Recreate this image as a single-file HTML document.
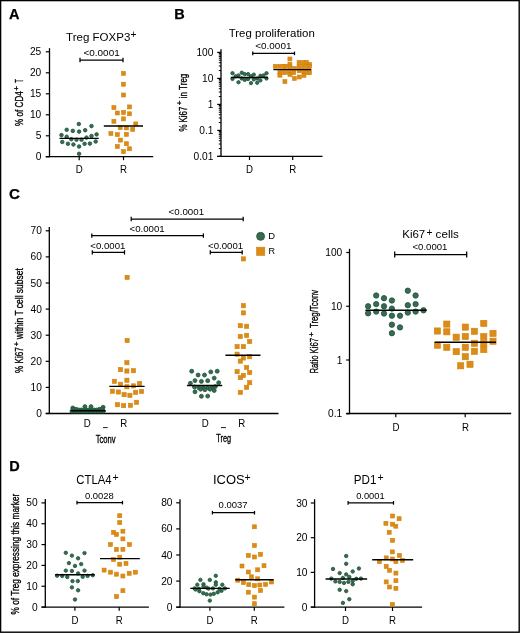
<!DOCTYPE html>
<html><head><meta charset="utf-8"><style>
html,body{margin:0;padding:0;background:#fff;}
svg{display:block;font-family:"Liberation Sans", sans-serif;will-change:transform;}
</style></head><body>
<svg width="520" height="633" viewBox="0 0 520 633">
<rect x="0" y="0" width="520" height="633" fill="#fff"/>
<text x="9" y="19.3" font-size="14.5" stroke="#000" stroke-width="0.25" font-weight="bold">A</text>
<text x="66.07" y="40.8" font-size="11.4" textLength="64.3" lengthAdjust="spacingAndGlyphs">Treg FOXP3</text>
<text x="130.53" y="37.9" font-size="10.2">+</text>
<line x1="49.5" y1="48.2" x2="49.5" y2="157.2" stroke="#000" stroke-width="1.3"/>
<line x1="45.8" y1="156.6" x2="153.2" y2="156.6" stroke="#000" stroke-width="1.3"/>
<line x1="45.8" y1="51.8" x2="49.5" y2="51.8" stroke="#000" stroke-width="1.2"/>
<text x="41.3" y="55.3" font-size="10.2" text-anchor="end" textLength="11.35" lengthAdjust="spacingAndGlyphs">25</text>
<line x1="45.8" y1="72.8" x2="49.5" y2="72.8" stroke="#000" stroke-width="1.2"/>
<text x="41.3" y="76.3" font-size="10.2" text-anchor="end" textLength="11.35" lengthAdjust="spacingAndGlyphs">20</text>
<line x1="45.8" y1="93.8" x2="49.5" y2="93.8" stroke="#000" stroke-width="1.2"/>
<text x="41.3" y="97.3" font-size="10.2" text-anchor="end" textLength="11.35" lengthAdjust="spacingAndGlyphs">15</text>
<line x1="45.8" y1="114.8" x2="49.5" y2="114.8" stroke="#000" stroke-width="1.2"/>
<text x="41.3" y="118.3" font-size="10.2" text-anchor="end" textLength="11.35" lengthAdjust="spacingAndGlyphs">10</text>
<line x1="45.8" y1="135.8" x2="49.5" y2="135.8" stroke="#000" stroke-width="1.2"/>
<text x="41.3" y="139.3" font-size="10.2" text-anchor="end" textLength="5.67" lengthAdjust="spacingAndGlyphs">5</text>
<line x1="45.8" y1="156.8" x2="49.5" y2="156.8" stroke="#000" stroke-width="1.2"/>
<text x="41.3" y="160.3" font-size="10.2" text-anchor="end" textLength="5.67" lengthAdjust="spacingAndGlyphs">0</text>
<line x1="79.2" y1="156.6" x2="79.2" y2="160.2" stroke="#000" stroke-width="1.2"/>
<line x1="123.5" y1="156.6" x2="123.5" y2="160.2" stroke="#000" stroke-width="1.2"/>
<text x="79.2" y="172.6" font-size="10.2" text-anchor="middle" textLength="7.0" lengthAdjust="spacingAndGlyphs">D</text>
<text x="123.5" y="172.6" font-size="10.2" text-anchor="middle" textLength="7.0" lengthAdjust="spacingAndGlyphs">R</text>
<text x="22.8" y="125.88" font-size="11.8" stroke="#000" stroke-width="0.35" textLength="34.72" lengthAdjust="spacingAndGlyphs" transform="rotate(-90 22.8 125.88)">% of CD4</text>
<text x="19.06" y="90.63" font-size="8" stroke="#000" stroke-width="0.35" transform="rotate(-90 19.06 90.63)">+</text>
<text x="22.8" y="82.82" font-size="11.8" stroke="#000" stroke-width="0.35" textLength="3.64" lengthAdjust="spacingAndGlyphs" transform="rotate(-90 22.8 82.82)">T</text>
<line x1="80" y1="60.0" x2="123" y2="60.0" stroke="#000" stroke-width="1.25"/>
<line x1="80" y1="57.8" x2="80" y2="62.2" stroke="#000" stroke-width="1.25"/>
<line x1="123" y1="57.8" x2="123" y2="62.2" stroke="#000" stroke-width="1.25"/>
<text x="83.55" y="55.6" font-size="9.5" textLength="36.12" lengthAdjust="spacingAndGlyphs">&lt;0.0001</text>
<circle cx="78.8" cy="124.0" r="1.78" fill="#3a6a54" stroke="#1d5739" stroke-width="0.85"/>
<circle cx="91.5" cy="126.1" r="1.78" fill="#3a6a54" stroke="#1d5739" stroke-width="0.85"/>
<circle cx="66.7" cy="129.8" r="1.78" fill="#3a6a54" stroke="#1d5739" stroke-width="0.85"/>
<circle cx="72.8" cy="130.9" r="1.78" fill="#3a6a54" stroke="#1d5739" stroke-width="0.85"/>
<circle cx="79.1" cy="131.6" r="1.78" fill="#3a6a54" stroke="#1d5739" stroke-width="0.85"/>
<circle cx="85.2" cy="130.2" r="1.78" fill="#3a6a54" stroke="#1d5739" stroke-width="0.85"/>
<circle cx="61.5" cy="135.1" r="1.78" fill="#3a6a54" stroke="#1d5739" stroke-width="0.85"/>
<circle cx="66.7" cy="136.7" r="1.78" fill="#3a6a54" stroke="#1d5739" stroke-width="0.85"/>
<circle cx="71.3" cy="139.2" r="1.78" fill="#3a6a54" stroke="#1d5739" stroke-width="0.85"/>
<circle cx="76.5" cy="139.7" r="1.78" fill="#3a6a54" stroke="#1d5739" stroke-width="0.85"/>
<circle cx="81.5" cy="139.7" r="1.78" fill="#3a6a54" stroke="#1d5739" stroke-width="0.85"/>
<circle cx="86.5" cy="137.6" r="1.78" fill="#3a6a54" stroke="#1d5739" stroke-width="0.85"/>
<circle cx="91.5" cy="136.0" r="1.78" fill="#3a6a54" stroke="#1d5739" stroke-width="0.85"/>
<circle cx="96.6" cy="134.4" r="1.78" fill="#3a6a54" stroke="#1d5739" stroke-width="0.85"/>
<circle cx="62.3" cy="142.0" r="1.78" fill="#3a6a54" stroke="#1d5739" stroke-width="0.85"/>
<circle cx="67.9" cy="143.8" r="1.78" fill="#3a6a54" stroke="#1d5739" stroke-width="0.85"/>
<circle cx="73.4" cy="144.5" r="1.78" fill="#3a6a54" stroke="#1d5739" stroke-width="0.85"/>
<circle cx="79.1" cy="146.5" r="1.78" fill="#3a6a54" stroke="#1d5739" stroke-width="0.85"/>
<circle cx="84.6" cy="143.8" r="1.78" fill="#3a6a54" stroke="#1d5739" stroke-width="0.85"/>
<circle cx="89.9" cy="143.6" r="1.78" fill="#3a6a54" stroke="#1d5739" stroke-width="0.85"/>
<circle cx="95.7" cy="141.5" r="1.78" fill="#3a6a54" stroke="#1d5739" stroke-width="0.85"/>
<circle cx="79.1" cy="153.8" r="1.78" fill="#3a6a54" stroke="#1d5739" stroke-width="0.85"/>
<rect x="121.50" y="71.40" width="4.00" height="4.00" fill="#d98b1c" stroke="#d58200" stroke-width="0.6"/>
<rect x="121.50" y="82.20" width="4.00" height="4.00" fill="#d98b1c" stroke="#d58200" stroke-width="0.6"/>
<rect x="121.50" y="93.00" width="4.00" height="4.00" fill="#d98b1c" stroke="#d58200" stroke-width="0.6"/>
<rect x="111.90" y="105.60" width="4.00" height="4.00" fill="#d98b1c" stroke="#d58200" stroke-width="0.6"/>
<rect x="127.50" y="104.90" width="4.00" height="4.00" fill="#d98b1c" stroke="#d58200" stroke-width="0.6"/>
<rect x="115.30" y="111.00" width="4.00" height="4.00" fill="#d98b1c" stroke="#d58200" stroke-width="0.6"/>
<rect x="121.50" y="110.40" width="4.00" height="4.00" fill="#d98b1c" stroke="#d58200" stroke-width="0.6"/>
<rect x="127.50" y="111.80" width="4.00" height="4.00" fill="#d98b1c" stroke="#d58200" stroke-width="0.6"/>
<rect x="121.50" y="116.90" width="4.00" height="4.00" fill="#d98b1c" stroke="#d58200" stroke-width="0.6"/>
<rect x="111.90" y="119.30" width="4.00" height="4.00" fill="#d98b1c" stroke="#d58200" stroke-width="0.6"/>
<rect x="133.80" y="121.90" width="4.00" height="4.00" fill="#d98b1c" stroke="#d58200" stroke-width="0.6"/>
<rect x="118.20" y="125.60" width="4.00" height="4.00" fill="#d98b1c" stroke="#d58200" stroke-width="0.6"/>
<rect x="124.40" y="125.90" width="4.00" height="4.00" fill="#d98b1c" stroke="#d58200" stroke-width="0.6"/>
<rect x="130.70" y="127.30" width="4.00" height="4.00" fill="#d98b1c" stroke="#d58200" stroke-width="0.6"/>
<rect x="108.90" y="131.50" width="4.00" height="4.00" fill="#d98b1c" stroke="#d58200" stroke-width="0.6"/>
<rect x="115.30" y="132.60" width="4.00" height="4.00" fill="#d98b1c" stroke="#d58200" stroke-width="0.6"/>
<rect x="124.40" y="132.30" width="4.00" height="4.00" fill="#d98b1c" stroke="#d58200" stroke-width="0.6"/>
<rect x="118.40" y="138.10" width="4.00" height="4.00" fill="#d98b1c" stroke="#d58200" stroke-width="0.6"/>
<rect x="124.40" y="141.70" width="4.00" height="4.00" fill="#d98b1c" stroke="#d58200" stroke-width="0.6"/>
<rect x="115.30" y="144.50" width="4.00" height="4.00" fill="#d98b1c" stroke="#d58200" stroke-width="0.6"/>
<rect x="127.50" y="146.75" width="4.00" height="4.00" fill="#d98b1c" stroke="#d58200" stroke-width="0.6"/>
<rect x="121.50" y="149.60" width="4.00" height="4.00" fill="#d98b1c" stroke="#d58200" stroke-width="0.6"/>
<line x1="59.5" y1="138.4" x2="98.7" y2="138.4" stroke="#000" stroke-width="1.4"/>
<line x1="103.8" y1="126.0" x2="143" y2="126.0" stroke="#000" stroke-width="1.4"/>
<text x="174.3" y="19.3" font-size="14.5" stroke="#000" stroke-width="0.25" font-weight="bold">B</text>
<text x="228.72" y="37.3" font-size="11.7" textLength="86.15" lengthAdjust="spacingAndGlyphs">Treg proliferation</text>
<line x1="221" y1="49.3" x2="221" y2="157.0" stroke="#000" stroke-width="1.3"/>
<line x1="217.2" y1="156.4" x2="322.5" y2="156.4" stroke="#000" stroke-width="1.3"/>
<line x1="217.2" y1="52.400000000000006" x2="221" y2="52.400000000000006" stroke="#000" stroke-width="1.2"/>
<text x="213.4" y="55.900000000000006" font-size="10.2" text-anchor="end" textLength="17.02" lengthAdjust="spacingAndGlyphs">100</text>
<line x1="217.2" y1="78.4" x2="221" y2="78.4" stroke="#000" stroke-width="1.2"/>
<text x="213.4" y="81.9" font-size="10.2" text-anchor="end" textLength="11.35" lengthAdjust="spacingAndGlyphs">10</text>
<line x1="217.2" y1="104.4" x2="221" y2="104.4" stroke="#000" stroke-width="1.2"/>
<text x="213.4" y="107.9" font-size="10.2" text-anchor="end" textLength="5.67" lengthAdjust="spacingAndGlyphs">1</text>
<line x1="217.2" y1="130.4" x2="221" y2="130.4" stroke="#000" stroke-width="1.2"/>
<text x="213.4" y="133.9" font-size="10.2" text-anchor="end" textLength="14.18" lengthAdjust="spacingAndGlyphs">0.1</text>
<line x1="217.2" y1="156.4" x2="221" y2="156.4" stroke="#000" stroke-width="1.2"/>
<text x="213.4" y="159.9" font-size="10.2" text-anchor="end" textLength="19.85" lengthAdjust="spacingAndGlyphs">0.01</text>
<line x1="218.8" y1="148.5732201127365" x2="221" y2="148.5732201127365" stroke="#000" stroke-width="1.0"/>
<line x1="218.8" y1="143.99484737728878" x2="221" y2="143.99484737728878" stroke="#000" stroke-width="1.0"/>
<line x1="218.8" y1="140.74644022547298" x2="221" y2="140.74644022547298" stroke="#000" stroke-width="1.0"/>
<line x1="218.8" y1="138.22677988726352" x2="221" y2="138.22677988726352" stroke="#000" stroke-width="1.0"/>
<line x1="218.8" y1="136.16806749002527" x2="221" y2="136.16806749002527" stroke="#000" stroke-width="1.0"/>
<line x1="218.8" y1="134.4274509596293" x2="221" y2="134.4274509596293" stroke="#000" stroke-width="1.0"/>
<line x1="218.8" y1="132.91966033820947" x2="221" y2="132.91966033820947" stroke="#000" stroke-width="1.0"/>
<line x1="218.8" y1="131.58969475457755" x2="221" y2="131.58969475457755" stroke="#000" stroke-width="1.0"/>
<line x1="218.8" y1="122.5732201127365" x2="221" y2="122.5732201127365" stroke="#000" stroke-width="1.0"/>
<line x1="218.8" y1="117.99484737728878" x2="221" y2="117.99484737728878" stroke="#000" stroke-width="1.0"/>
<line x1="218.8" y1="114.74644022547298" x2="221" y2="114.74644022547298" stroke="#000" stroke-width="1.0"/>
<line x1="218.8" y1="112.22677988726352" x2="221" y2="112.22677988726352" stroke="#000" stroke-width="1.0"/>
<line x1="218.8" y1="110.16806749002527" x2="221" y2="110.16806749002527" stroke="#000" stroke-width="1.0"/>
<line x1="218.8" y1="108.42745095962933" x2="221" y2="108.42745095962933" stroke="#000" stroke-width="1.0"/>
<line x1="218.8" y1="106.91966033820947" x2="221" y2="106.91966033820947" stroke="#000" stroke-width="1.0"/>
<line x1="218.8" y1="105.58969475457755" x2="221" y2="105.58969475457755" stroke="#000" stroke-width="1.0"/>
<line x1="218.8" y1="96.5732201127365" x2="221" y2="96.5732201127365" stroke="#000" stroke-width="1.0"/>
<line x1="218.8" y1="91.99484737728878" x2="221" y2="91.99484737728878" stroke="#000" stroke-width="1.0"/>
<line x1="218.8" y1="88.74644022547298" x2="221" y2="88.74644022547298" stroke="#000" stroke-width="1.0"/>
<line x1="218.8" y1="86.22677988726352" x2="221" y2="86.22677988726352" stroke="#000" stroke-width="1.0"/>
<line x1="218.8" y1="84.16806749002527" x2="221" y2="84.16806749002527" stroke="#000" stroke-width="1.0"/>
<line x1="218.8" y1="82.42745095962933" x2="221" y2="82.42745095962933" stroke="#000" stroke-width="1.0"/>
<line x1="218.8" y1="80.91966033820947" x2="221" y2="80.91966033820947" stroke="#000" stroke-width="1.0"/>
<line x1="218.8" y1="79.58969475457756" x2="221" y2="79.58969475457756" stroke="#000" stroke-width="1.0"/>
<line x1="218.8" y1="70.5732201127365" x2="221" y2="70.5732201127365" stroke="#000" stroke-width="1.0"/>
<line x1="218.8" y1="65.99484737728878" x2="221" y2="65.99484737728878" stroke="#000" stroke-width="1.0"/>
<line x1="218.8" y1="62.74644022547298" x2="221" y2="62.74644022547298" stroke="#000" stroke-width="1.0"/>
<line x1="218.8" y1="60.22677988726352" x2="221" y2="60.22677988726352" stroke="#000" stroke-width="1.0"/>
<line x1="218.8" y1="58.168067490025265" x2="221" y2="58.168067490025265" stroke="#000" stroke-width="1.0"/>
<line x1="218.8" y1="56.427450959629326" x2="221" y2="56.427450959629326" stroke="#000" stroke-width="1.0"/>
<line x1="218.8" y1="54.91966033820947" x2="221" y2="54.91966033820947" stroke="#000" stroke-width="1.0"/>
<line x1="218.8" y1="53.589694754577565" x2="221" y2="53.589694754577565" stroke="#000" stroke-width="1.0"/>
<line x1="249.5" y1="156.4" x2="249.5" y2="160.0" stroke="#000" stroke-width="1.2"/>
<line x1="292.7" y1="156.4" x2="292.7" y2="160.0" stroke="#000" stroke-width="1.2"/>
<text x="249.5" y="173.2" font-size="10.2" text-anchor="middle" textLength="7.0" lengthAdjust="spacingAndGlyphs">D</text>
<text x="292.7" y="173.2" font-size="10.2" text-anchor="middle" textLength="7.0" lengthAdjust="spacingAndGlyphs">R</text>
<text x="186.6" y="131.57" font-size="11.8" stroke="#000" stroke-width="0.35" textLength="24.9" lengthAdjust="spacingAndGlyphs" transform="rotate(-90 186.6 131.57)">% Ki67</text>
<text x="182.26" y="105.13" font-size="8" stroke="#000" stroke-width="0.35" transform="rotate(-90 182.26 105.13)">+</text>
<text x="186.6" y="98.22" font-size="11.8" stroke="#000" stroke-width="0.35" textLength="24.56" lengthAdjust="spacingAndGlyphs" transform="rotate(-90 186.6 98.22)">in Treg</text>
<line x1="252.75" y1="53.4" x2="294.5" y2="53.4" stroke="#000" stroke-width="1.25"/>
<line x1="252.75" y1="51.6" x2="252.75" y2="55.199999999999996" stroke="#000" stroke-width="1.25"/>
<line x1="294.5" y1="51.6" x2="294.5" y2="55.199999999999996" stroke="#000" stroke-width="1.25"/>
<text x="255.3" y="49.2" font-size="9.5" textLength="36.12" lengthAdjust="spacingAndGlyphs">&lt;0.0001</text>
<circle cx="232.5" cy="73.2" r="1.68" fill="#3a6a54" stroke="#1d5739" stroke-width="0.85"/>
<circle cx="232.5" cy="78.9" r="1.68" fill="#3a6a54" stroke="#1d5739" stroke-width="0.85"/>
<circle cx="235.6" cy="76.3" r="1.68" fill="#3a6a54" stroke="#1d5739" stroke-width="0.85"/>
<circle cx="238.5" cy="75.4" r="1.68" fill="#3a6a54" stroke="#1d5739" stroke-width="0.85"/>
<circle cx="238.5" cy="82.3" r="1.68" fill="#3a6a54" stroke="#1d5739" stroke-width="0.85"/>
<circle cx="241.8" cy="72.7" r="1.68" fill="#3a6a54" stroke="#1d5739" stroke-width="0.85"/>
<circle cx="241.8" cy="78.5" r="1.68" fill="#3a6a54" stroke="#1d5739" stroke-width="0.85"/>
<circle cx="244.7" cy="74.1" r="1.68" fill="#3a6a54" stroke="#1d5739" stroke-width="0.85"/>
<circle cx="244.7" cy="79.9" r="1.68" fill="#3a6a54" stroke="#1d5739" stroke-width="0.85"/>
<circle cx="248.1" cy="74.1" r="1.68" fill="#3a6a54" stroke="#1d5739" stroke-width="0.85"/>
<circle cx="248.1" cy="79.0" r="1.68" fill="#3a6a54" stroke="#1d5739" stroke-width="0.85"/>
<circle cx="251" cy="76.3" r="1.68" fill="#3a6a54" stroke="#1d5739" stroke-width="0.85"/>
<circle cx="251" cy="83.1" r="1.68" fill="#3a6a54" stroke="#1d5739" stroke-width="0.85"/>
<circle cx="253.8" cy="74.6" r="1.68" fill="#3a6a54" stroke="#1d5739" stroke-width="0.85"/>
<circle cx="253.8" cy="79.4" r="1.68" fill="#3a6a54" stroke="#1d5739" stroke-width="0.85"/>
<circle cx="257.2" cy="82.8" r="1.68" fill="#3a6a54" stroke="#1d5739" stroke-width="0.85"/>
<circle cx="257.2" cy="78.5" r="1.68" fill="#3a6a54" stroke="#1d5739" stroke-width="0.85"/>
<circle cx="260.4" cy="80.4" r="1.68" fill="#3a6a54" stroke="#1d5739" stroke-width="0.85"/>
<circle cx="260.4" cy="75.8" r="1.68" fill="#3a6a54" stroke="#1d5739" stroke-width="0.85"/>
<circle cx="263.5" cy="75.4" r="1.68" fill="#3a6a54" stroke="#1d5739" stroke-width="0.85"/>
<circle cx="266.5" cy="73.2" r="1.68" fill="#3a6a54" stroke="#1d5739" stroke-width="0.85"/>
<circle cx="266.5" cy="78.5" r="1.68" fill="#3a6a54" stroke="#1d5739" stroke-width="0.85"/>
<rect x="287.90" y="57.00" width="4.00" height="4.00" fill="#d98b1c" stroke="#d58200" stroke-width="0.6"/>
<rect x="287.90" y="62.30" width="4.00" height="4.00" fill="#d98b1c" stroke="#d58200" stroke-width="0.6"/>
<rect x="273.30" y="64.40" width="4.00" height="4.00" fill="#d98b1c" stroke="#d58200" stroke-width="0.6"/>
<rect x="277.90" y="64.40" width="4.00" height="4.00" fill="#d98b1c" stroke="#d58200" stroke-width="0.6"/>
<rect x="282.50" y="64.40" width="4.00" height="4.00" fill="#d98b1c" stroke="#d58200" stroke-width="0.6"/>
<rect x="283.40" y="64.40" width="4.00" height="4.00" fill="#d98b1c" stroke="#d58200" stroke-width="0.6"/>
<rect x="287.90" y="65.00" width="4.00" height="4.00" fill="#d98b1c" stroke="#d58200" stroke-width="0.6"/>
<rect x="297.10" y="60.50" width="4.00" height="4.00" fill="#d98b1c" stroke="#d58200" stroke-width="0.6"/>
<rect x="301.70" y="60.50" width="4.00" height="4.00" fill="#d98b1c" stroke="#d58200" stroke-width="0.6"/>
<rect x="304.50" y="60.50" width="4.00" height="4.00" fill="#d98b1c" stroke="#d58200" stroke-width="0.6"/>
<rect x="307.45" y="62.40" width="4.00" height="4.00" fill="#d98b1c" stroke="#d58200" stroke-width="0.6"/>
<rect x="297.10" y="64.50" width="4.00" height="4.00" fill="#d98b1c" stroke="#d58200" stroke-width="0.6"/>
<rect x="301.70" y="64.50" width="4.00" height="4.00" fill="#d98b1c" stroke="#d58200" stroke-width="0.6"/>
<rect x="306.30" y="64.50" width="4.00" height="4.00" fill="#d98b1c" stroke="#d58200" stroke-width="0.6"/>
<rect x="307.45" y="64.50" width="4.00" height="4.00" fill="#d98b1c" stroke="#d58200" stroke-width="0.6"/>
<rect x="292.50" y="66.50" width="4.00" height="4.00" fill="#d98b1c" stroke="#d58200" stroke-width="0.6"/>
<rect x="277.90" y="70.60" width="4.00" height="4.00" fill="#d98b1c" stroke="#d58200" stroke-width="0.6"/>
<rect x="282.50" y="70.60" width="4.00" height="4.00" fill="#d98b1c" stroke="#d58200" stroke-width="0.6"/>
<rect x="287.10" y="70.60" width="4.00" height="4.00" fill="#d98b1c" stroke="#d58200" stroke-width="0.6"/>
<rect x="291.70" y="70.60" width="4.00" height="4.00" fill="#d98b1c" stroke="#d58200" stroke-width="0.6"/>
<rect x="302.00" y="70.60" width="4.00" height="4.00" fill="#d98b1c" stroke="#d58200" stroke-width="0.6"/>
<rect x="306.60" y="70.60" width="4.00" height="4.00" fill="#d98b1c" stroke="#d58200" stroke-width="0.6"/>
<rect x="307.45" y="70.60" width="4.00" height="4.00" fill="#d98b1c" stroke="#d58200" stroke-width="0.6"/>
<rect x="297.20" y="68.70" width="4.00" height="4.00" fill="#d98b1c" stroke="#d58200" stroke-width="0.6"/>
<rect x="302.00" y="68.70" width="4.00" height="4.00" fill="#d98b1c" stroke="#d58200" stroke-width="0.6"/>
<rect x="277.90" y="73.20" width="4.00" height="4.00" fill="#d98b1c" stroke="#d58200" stroke-width="0.6"/>
<rect x="288.00" y="72.50" width="4.00" height="4.00" fill="#d98b1c" stroke="#d58200" stroke-width="0.6"/>
<rect x="292.40" y="76.40" width="4.00" height="4.00" fill="#d98b1c" stroke="#d58200" stroke-width="0.6"/>
<rect x="297.30" y="75.00" width="4.00" height="4.00" fill="#d98b1c" stroke="#d58200" stroke-width="0.6"/>
<rect x="302.00" y="73.30" width="4.00" height="4.00" fill="#d98b1c" stroke="#d58200" stroke-width="0.6"/>
<rect x="282.90" y="79.60" width="4.00" height="4.00" fill="#d98b1c" stroke="#d58200" stroke-width="0.6"/>
<line x1="230.8" y1="77.5" x2="268" y2="77.5" stroke="#000" stroke-width="1.4"/>
<line x1="273.4" y1="69.6" x2="311.3" y2="69.6" stroke="#000" stroke-width="1.4"/>
<text x="9.0" y="199.3" font-size="15.2" stroke="#000" stroke-width="0.25" font-weight="bold">C</text>
<line x1="49.3" y1="227" x2="49.3" y2="414.1" stroke="#000" stroke-width="1.3"/>
<line x1="45.7" y1="413.5" x2="278.5" y2="413.5" stroke="#000" stroke-width="1.3"/>
<line x1="45.7" y1="413.5" x2="49.3" y2="413.5" stroke="#000" stroke-width="1.2"/>
<text x="41.9" y="417.0" font-size="10.2" text-anchor="end" textLength="5.67" lengthAdjust="spacingAndGlyphs">0</text>
<line x1="45.7" y1="387.4" x2="49.3" y2="387.4" stroke="#000" stroke-width="1.2"/>
<text x="41.9" y="390.9" font-size="10.2" text-anchor="end" textLength="11.35" lengthAdjust="spacingAndGlyphs">10</text>
<line x1="45.7" y1="361.3" x2="49.3" y2="361.3" stroke="#000" stroke-width="1.2"/>
<text x="41.9" y="364.8" font-size="10.2" text-anchor="end" textLength="11.35" lengthAdjust="spacingAndGlyphs">20</text>
<line x1="45.7" y1="335.2" x2="49.3" y2="335.2" stroke="#000" stroke-width="1.2"/>
<text x="41.9" y="338.7" font-size="10.2" text-anchor="end" textLength="11.35" lengthAdjust="spacingAndGlyphs">30</text>
<line x1="45.7" y1="309.1" x2="49.3" y2="309.1" stroke="#000" stroke-width="1.2"/>
<text x="41.9" y="312.6" font-size="10.2" text-anchor="end" textLength="11.35" lengthAdjust="spacingAndGlyphs">40</text>
<line x1="45.7" y1="283.0" x2="49.3" y2="283.0" stroke="#000" stroke-width="1.2"/>
<text x="41.9" y="286.5" font-size="10.2" text-anchor="end" textLength="11.35" lengthAdjust="spacingAndGlyphs">50</text>
<line x1="45.7" y1="256.9" x2="49.3" y2="256.9" stroke="#000" stroke-width="1.2"/>
<text x="41.9" y="260.4" font-size="10.2" text-anchor="end" textLength="11.35" lengthAdjust="spacingAndGlyphs">60</text>
<line x1="45.7" y1="230.8" x2="49.3" y2="230.8" stroke="#000" stroke-width="1.2"/>
<text x="41.9" y="234.3" font-size="10.2" text-anchor="end" textLength="11.35" lengthAdjust="spacingAndGlyphs">70</text>
<text x="87.3" y="426.7" font-size="10.2" text-anchor="middle" textLength="7.0" lengthAdjust="spacingAndGlyphs">D</text>
<line x1="103" y1="427.6" x2="107.7" y2="427.6" stroke="#000" stroke-width="0.9"/>
<text x="123.7" y="426.7" font-size="10.2" text-anchor="middle" textLength="7.0" lengthAdjust="spacingAndGlyphs">R</text>
<text x="205.3" y="426.7" font-size="10.2" text-anchor="middle" textLength="7.0" lengthAdjust="spacingAndGlyphs">D</text>
<line x1="221" y1="427.6" x2="226" y2="427.6" stroke="#000" stroke-width="0.9"/>
<text x="241.8" y="426.7" font-size="10.2" text-anchor="middle" textLength="7.0" lengthAdjust="spacingAndGlyphs">R</text>
<text x="95.75" y="442.5" font-size="11.2" stroke="#000" stroke-width="0.35" textLength="19.81" lengthAdjust="spacingAndGlyphs">Tconv</text>
<text x="216.35" y="442.3" font-size="11.2" stroke="#000" stroke-width="0.35" textLength="14.82" lengthAdjust="spacingAndGlyphs">Treg</text>
<text x="23.2" y="372.98" font-size="11.8" stroke="#000" stroke-width="0.35" textLength="25.72" lengthAdjust="spacingAndGlyphs" transform="rotate(-90 23.2 372.98)">% Ki67</text>
<text x="19.06" y="346.33" font-size="8" stroke="#000" stroke-width="0.35" transform="rotate(-90 19.06 346.33)">+</text>
<text x="23.2" y="339.3" font-size="11.8" stroke="#000" stroke-width="0.35" textLength="71.06" lengthAdjust="spacingAndGlyphs" transform="rotate(-90 23.2 339.3)">within T cell subset</text>
<line x1="131.2" y1="219.0" x2="243.2" y2="219.0" stroke="#000" stroke-width="1.25"/>
<line x1="131.2" y1="216.8" x2="131.2" y2="221.2" stroke="#000" stroke-width="1.25"/>
<line x1="243.2" y1="216.8" x2="243.2" y2="221.2" stroke="#000" stroke-width="1.25"/>
<text x="168.61" y="215.1" font-size="9.5" textLength="35.45" lengthAdjust="spacingAndGlyphs">&lt;0.0001</text>
<line x1="91.8" y1="235.6" x2="203.4" y2="235.6" stroke="#000" stroke-width="1.25"/>
<line x1="91.8" y1="233.4" x2="91.8" y2="237.79999999999998" stroke="#000" stroke-width="1.25"/>
<line x1="203.4" y1="233.4" x2="203.4" y2="237.79999999999998" stroke="#000" stroke-width="1.25"/>
<text x="129.47" y="231.9" font-size="9.5" textLength="35.3" lengthAdjust="spacingAndGlyphs">&lt;0.0001</text>
<line x1="92.3" y1="252.4" x2="124.5" y2="252.4" stroke="#000" stroke-width="1.25"/>
<line x1="92.3" y1="250.20000000000002" x2="92.3" y2="254.6" stroke="#000" stroke-width="1.25"/>
<line x1="124.5" y1="250.20000000000002" x2="124.5" y2="254.6" stroke="#000" stroke-width="1.25"/>
<text x="90.32" y="248.7" font-size="9.5" textLength="35.04" lengthAdjust="spacingAndGlyphs">&lt;0.0001</text>
<line x1="210.3" y1="252.4" x2="242.2" y2="252.4" stroke="#000" stroke-width="1.25"/>
<line x1="210.3" y1="250.20000000000002" x2="210.3" y2="254.6" stroke="#000" stroke-width="1.25"/>
<line x1="242.2" y1="250.20000000000002" x2="242.2" y2="254.6" stroke="#000" stroke-width="1.25"/>
<text x="208.12" y="248.5" font-size="9.5" textLength="34.94" lengthAdjust="spacingAndGlyphs">&lt;0.0001</text>
<circle cx="260.6" cy="236.35" r="3.98" fill="#3a6a54" stroke="#1d5739" stroke-width="0.85"/>
<rect x="256.60" y="247.20" width="8.20" height="8.20" fill="#d98b1c" stroke="#d58200" stroke-width="0.6"/>
<text x="268.35" y="239.0" font-size="9.8" textLength="6.8" lengthAdjust="spacingAndGlyphs">D</text>
<text x="268.57" y="254.1" font-size="9.8" textLength="6.55" lengthAdjust="spacingAndGlyphs">R</text>
<circle cx="72.8" cy="408.0" r="1.97" fill="#3a6a54" stroke="#1d5739" stroke-width="0.85"/>
<circle cx="84.9" cy="406.6" r="1.97" fill="#3a6a54" stroke="#1d5739" stroke-width="0.85"/>
<circle cx="91" cy="406.6" r="1.97" fill="#3a6a54" stroke="#1d5739" stroke-width="0.85"/>
<circle cx="103.1" cy="407.3" r="1.97" fill="#3a6a54" stroke="#1d5739" stroke-width="0.85"/>
<circle cx="73.5" cy="409.3" r="1.97" fill="#3a6a54" stroke="#1d5739" stroke-width="0.85"/>
<circle cx="76.1" cy="409.3" r="1.97" fill="#3a6a54" stroke="#1d5739" stroke-width="0.85"/>
<circle cx="78.7" cy="410.0" r="1.97" fill="#3a6a54" stroke="#1d5739" stroke-width="0.85"/>
<circle cx="81.3" cy="410.0" r="1.97" fill="#3a6a54" stroke="#1d5739" stroke-width="0.85"/>
<circle cx="83.9" cy="410.0" r="1.97" fill="#3a6a54" stroke="#1d5739" stroke-width="0.85"/>
<circle cx="86.5" cy="410.0" r="1.97" fill="#3a6a54" stroke="#1d5739" stroke-width="0.85"/>
<circle cx="89.1" cy="410.0" r="1.97" fill="#3a6a54" stroke="#1d5739" stroke-width="0.85"/>
<circle cx="91.7" cy="410.0" r="1.97" fill="#3a6a54" stroke="#1d5739" stroke-width="0.85"/>
<circle cx="94.3" cy="410.0" r="1.97" fill="#3a6a54" stroke="#1d5739" stroke-width="0.85"/>
<circle cx="96.9" cy="410.0" r="1.97" fill="#3a6a54" stroke="#1d5739" stroke-width="0.85"/>
<circle cx="99.5" cy="409.3" r="1.97" fill="#3a6a54" stroke="#1d5739" stroke-width="0.85"/>
<circle cx="102.1" cy="409.3" r="1.97" fill="#3a6a54" stroke="#1d5739" stroke-width="0.85"/>
<circle cx="72.0" cy="411.2" r="1.97" fill="#3a6a54" stroke="#1d5739" stroke-width="0.85"/>
<circle cx="74.6" cy="411.2" r="1.97" fill="#3a6a54" stroke="#1d5739" stroke-width="0.85"/>
<circle cx="77.2" cy="411.2" r="1.97" fill="#3a6a54" stroke="#1d5739" stroke-width="0.85"/>
<circle cx="79.8" cy="411.2" r="1.97" fill="#3a6a54" stroke="#1d5739" stroke-width="0.85"/>
<circle cx="82.4" cy="411.2" r="1.97" fill="#3a6a54" stroke="#1d5739" stroke-width="0.85"/>
<circle cx="85.0" cy="411.2" r="1.97" fill="#3a6a54" stroke="#1d5739" stroke-width="0.85"/>
<circle cx="87.6" cy="411.2" r="1.97" fill="#3a6a54" stroke="#1d5739" stroke-width="0.85"/>
<circle cx="90.2" cy="411.2" r="1.97" fill="#3a6a54" stroke="#1d5739" stroke-width="0.85"/>
<circle cx="92.8" cy="411.2" r="1.97" fill="#3a6a54" stroke="#1d5739" stroke-width="0.85"/>
<circle cx="95.4" cy="411.2" r="1.97" fill="#3a6a54" stroke="#1d5739" stroke-width="0.85"/>
<circle cx="98.0" cy="411.2" r="1.97" fill="#3a6a54" stroke="#1d5739" stroke-width="0.85"/>
<circle cx="100.6" cy="411.2" r="1.97" fill="#3a6a54" stroke="#1d5739" stroke-width="0.85"/>
<circle cx="103.2" cy="411.2" r="1.97" fill="#3a6a54" stroke="#1d5739" stroke-width="0.85"/>
<rect x="125.00" y="275.30" width="4.20" height="4.20" fill="#d98b1c" stroke="#d58200" stroke-width="0.6"/>
<rect x="125.00" y="338.40" width="4.20" height="4.20" fill="#d98b1c" stroke="#d58200" stroke-width="0.6"/>
<rect x="124.80" y="360.60" width="4.20" height="4.20" fill="#d98b1c" stroke="#d58200" stroke-width="0.6"/>
<rect x="118.40" y="367.50" width="4.20" height="4.20" fill="#d98b1c" stroke="#d58200" stroke-width="0.6"/>
<rect x="124.80" y="368.90" width="4.20" height="4.20" fill="#d98b1c" stroke="#d58200" stroke-width="0.6"/>
<rect x="131.30" y="368.60" width="4.20" height="4.20" fill="#d98b1c" stroke="#d58200" stroke-width="0.6"/>
<rect x="112.30" y="379.20" width="4.20" height="4.20" fill="#d98b1c" stroke="#d58200" stroke-width="0.6"/>
<rect x="124.80" y="378.10" width="4.20" height="4.20" fill="#d98b1c" stroke="#d58200" stroke-width="0.6"/>
<rect x="118.40" y="382.20" width="4.20" height="4.20" fill="#d98b1c" stroke="#d58200" stroke-width="0.6"/>
<rect x="124.80" y="384.70" width="4.20" height="4.20" fill="#d98b1c" stroke="#d58200" stroke-width="0.6"/>
<rect x="131.30" y="383.80" width="4.20" height="4.20" fill="#d98b1c" stroke="#d58200" stroke-width="0.6"/>
<rect x="137.50" y="381.40" width="4.20" height="4.20" fill="#d98b1c" stroke="#d58200" stroke-width="0.6"/>
<rect x="110.30" y="389.10" width="4.20" height="4.20" fill="#d98b1c" stroke="#d58200" stroke-width="0.6"/>
<rect x="116.20" y="389.90" width="4.20" height="4.20" fill="#d98b1c" stroke="#d58200" stroke-width="0.6"/>
<rect x="122.00" y="392.50" width="4.20" height="4.20" fill="#d98b1c" stroke="#d58200" stroke-width="0.6"/>
<rect x="127.80" y="393.20" width="4.20" height="4.20" fill="#d98b1c" stroke="#d58200" stroke-width="0.6"/>
<rect x="133.50" y="390.20" width="4.20" height="4.20" fill="#d98b1c" stroke="#d58200" stroke-width="0.6"/>
<rect x="139.40" y="389.40" width="4.20" height="4.20" fill="#d98b1c" stroke="#d58200" stroke-width="0.6"/>
<rect x="115.40" y="402.60" width="4.20" height="4.20" fill="#d98b1c" stroke="#d58200" stroke-width="0.6"/>
<rect x="121.50" y="403.50" width="4.20" height="4.20" fill="#d98b1c" stroke="#d58200" stroke-width="0.6"/>
<rect x="128.30" y="403.20" width="4.20" height="4.20" fill="#d98b1c" stroke="#d58200" stroke-width="0.6"/>
<rect x="134.40" y="400.20" width="4.20" height="4.20" fill="#d98b1c" stroke="#d58200" stroke-width="0.6"/>
<line x1="70.6" y1="410.8" x2="105.7" y2="410.8" stroke="#000" stroke-width="1.5"/>
<line x1="109.3" y1="386.4" x2="144.6" y2="386.4" stroke="#000" stroke-width="1.4"/>
<circle cx="191.7" cy="371.2" r="1.97" fill="#3a6a54" stroke="#1d5739" stroke-width="0.85"/>
<circle cx="198.1" cy="375" r="1.97" fill="#3a6a54" stroke="#1d5739" stroke-width="0.85"/>
<circle cx="204.5" cy="375" r="1.97" fill="#3a6a54" stroke="#1d5739" stroke-width="0.85"/>
<circle cx="210.8" cy="371.9" r="1.97" fill="#3a6a54" stroke="#1d5739" stroke-width="0.85"/>
<circle cx="217.2" cy="371.2" r="1.97" fill="#3a6a54" stroke="#1d5739" stroke-width="0.85"/>
<circle cx="195" cy="380.6" r="1.97" fill="#3a6a54" stroke="#1d5739" stroke-width="0.85"/>
<circle cx="201.4" cy="381.4" r="1.97" fill="#3a6a54" stroke="#1d5739" stroke-width="0.85"/>
<circle cx="207.7" cy="380.7" r="1.97" fill="#3a6a54" stroke="#1d5739" stroke-width="0.85"/>
<circle cx="214.2" cy="378.1" r="1.97" fill="#3a6a54" stroke="#1d5739" stroke-width="0.85"/>
<circle cx="190.4" cy="383.3" r="1.97" fill="#3a6a54" stroke="#1d5739" stroke-width="0.85"/>
<circle cx="218.7" cy="382.7" r="1.97" fill="#3a6a54" stroke="#1d5739" stroke-width="0.85"/>
<circle cx="194.5" cy="387" r="1.97" fill="#3a6a54" stroke="#1d5739" stroke-width="0.85"/>
<circle cx="198.8" cy="387.7" r="1.97" fill="#3a6a54" stroke="#1d5739" stroke-width="0.85"/>
<circle cx="203.2" cy="387.7" r="1.97" fill="#3a6a54" stroke="#1d5739" stroke-width="0.85"/>
<circle cx="207.5" cy="387.7" r="1.97" fill="#3a6a54" stroke="#1d5739" stroke-width="0.85"/>
<circle cx="211.8" cy="387.7" r="1.97" fill="#3a6a54" stroke="#1d5739" stroke-width="0.85"/>
<circle cx="215.3" cy="386.6" r="1.97" fill="#3a6a54" stroke="#1d5739" stroke-width="0.85"/>
<circle cx="195" cy="391.8" r="1.97" fill="#3a6a54" stroke="#1d5739" stroke-width="0.85"/>
<circle cx="214.2" cy="390.5" r="1.97" fill="#3a6a54" stroke="#1d5739" stroke-width="0.85"/>
<circle cx="201.4" cy="396.3" r="1.97" fill="#3a6a54" stroke="#1d5739" stroke-width="0.85"/>
<circle cx="207.7" cy="396.1" r="1.97" fill="#3a6a54" stroke="#1d5739" stroke-width="0.85"/>
<circle cx="200.6" cy="389.2" r="1.97" fill="#3a6a54" stroke="#1d5739" stroke-width="0.85"/>
<circle cx="204.9" cy="389.7" r="1.97" fill="#3a6a54" stroke="#1d5739" stroke-width="0.85"/>
<circle cx="210.1" cy="389.2" r="1.97" fill="#3a6a54" stroke="#1d5739" stroke-width="0.85"/>
<rect x="241.30" y="256.80" width="4.20" height="4.20" fill="#d98b1c" stroke="#d58200" stroke-width="0.6"/>
<rect x="241.30" y="303.60" width="4.20" height="4.20" fill="#d98b1c" stroke="#d58200" stroke-width="0.6"/>
<rect x="241.30" y="310.80" width="4.20" height="4.20" fill="#d98b1c" stroke="#d58200" stroke-width="0.6"/>
<rect x="238.20" y="323.60" width="4.20" height="4.20" fill="#d98b1c" stroke="#d58200" stroke-width="0.6"/>
<rect x="244.50" y="324.20" width="4.20" height="4.20" fill="#d98b1c" stroke="#d58200" stroke-width="0.6"/>
<rect x="238.20" y="334.40" width="4.20" height="4.20" fill="#d98b1c" stroke="#d58200" stroke-width="0.6"/>
<rect x="244.50" y="333.30" width="4.20" height="4.20" fill="#d98b1c" stroke="#d58200" stroke-width="0.6"/>
<rect x="247.60" y="339.40" width="4.20" height="4.20" fill="#d98b1c" stroke="#d58200" stroke-width="0.6"/>
<rect x="235.00" y="344.50" width="4.20" height="4.20" fill="#d98b1c" stroke="#d58200" stroke-width="0.6"/>
<rect x="241.30" y="344.50" width="4.20" height="4.20" fill="#d98b1c" stroke="#d58200" stroke-width="0.6"/>
<rect x="235.00" y="352.10" width="4.20" height="4.20" fill="#d98b1c" stroke="#d58200" stroke-width="0.6"/>
<rect x="247.60" y="354.60" width="4.20" height="4.20" fill="#d98b1c" stroke="#d58200" stroke-width="0.6"/>
<rect x="241.30" y="355.90" width="4.20" height="4.20" fill="#d98b1c" stroke="#d58200" stroke-width="0.6"/>
<rect x="238.20" y="359.00" width="4.20" height="4.20" fill="#d98b1c" stroke="#d58200" stroke-width="0.6"/>
<rect x="244.50" y="365.40" width="4.20" height="4.20" fill="#d98b1c" stroke="#d58200" stroke-width="0.6"/>
<rect x="235.00" y="369.50" width="4.20" height="4.20" fill="#d98b1c" stroke="#d58200" stroke-width="0.6"/>
<rect x="247.60" y="370.40" width="4.20" height="4.20" fill="#d98b1c" stroke="#d58200" stroke-width="0.6"/>
<rect x="241.30" y="373.30" width="4.20" height="4.20" fill="#d98b1c" stroke="#d58200" stroke-width="0.6"/>
<rect x="238.20" y="375.50" width="4.20" height="4.20" fill="#d98b1c" stroke="#d58200" stroke-width="0.6"/>
<rect x="247.60" y="380.60" width="4.20" height="4.20" fill="#d98b1c" stroke="#d58200" stroke-width="0.6"/>
<rect x="244.50" y="385.20" width="4.20" height="4.20" fill="#d98b1c" stroke="#d58200" stroke-width="0.6"/>
<rect x="238.20" y="390.30" width="4.20" height="4.20" fill="#d98b1c" stroke="#d58200" stroke-width="0.6"/>
<line x1="186.9" y1="385.5" x2="222.2" y2="385.5" stroke="#000" stroke-width="1.4"/>
<line x1="225.4" y1="355.3" x2="260.5" y2="355.3" stroke="#000" stroke-width="1.4"/>
<text x="402.28" y="238.1" font-size="11.6" textLength="23.01" lengthAdjust="spacingAndGlyphs">Ki67</text>
<text x="426.53" y="235.9" font-size="10.2">+</text>
<text x="435.63" y="238.1" font-size="11.6" textLength="23.28" lengthAdjust="spacingAndGlyphs">cells</text>
<line x1="349.5" y1="248.8" x2="349.5" y2="414.1" stroke="#000" stroke-width="1.3"/>
<line x1="346.2" y1="413.5" x2="511.2" y2="413.5" stroke="#000" stroke-width="1.3"/>
<line x1="346.2" y1="252.5" x2="349.5" y2="252.5" stroke="#000" stroke-width="1.2"/>
<text x="342.3" y="256.0" font-size="10.2" text-anchor="end" textLength="17.02" lengthAdjust="spacingAndGlyphs">100</text>
<line x1="346.2" y1="306.25" x2="349.5" y2="306.25" stroke="#000" stroke-width="1.2"/>
<text x="342.3" y="309.75" font-size="10.2" text-anchor="end" textLength="11.35" lengthAdjust="spacingAndGlyphs">10</text>
<line x1="346.2" y1="360.0" x2="349.5" y2="360.0" stroke="#000" stroke-width="1.2"/>
<text x="342.3" y="363.5" font-size="10.2" text-anchor="end" textLength="5.67" lengthAdjust="spacingAndGlyphs">1</text>
<line x1="346.2" y1="413.75" x2="349.5" y2="413.75" stroke="#000" stroke-width="1.2"/>
<text x="342.3" y="417.25" font-size="10.2" text-anchor="end" textLength="14.18" lengthAdjust="spacingAndGlyphs">0.1</text>
<line x1="395.8" y1="413.5" x2="395.8" y2="417.2" stroke="#000" stroke-width="1.2"/>
<line x1="465.2" y1="413.5" x2="465.2" y2="417.2" stroke="#000" stroke-width="1.2"/>
<text x="396.0" y="430.5" font-size="10.2" text-anchor="middle" textLength="7.0" lengthAdjust="spacingAndGlyphs">D</text>
<text x="465.5" y="430.5" font-size="10.2" text-anchor="middle" textLength="7.0" lengthAdjust="spacingAndGlyphs">R</text>
<text x="317.6" y="373.52" font-size="11.8" stroke="#000" stroke-width="0.35" textLength="35.59" lengthAdjust="spacingAndGlyphs" transform="rotate(-90 317.6 373.52)">Ratio Ki67</text>
<text x="313.56" y="336.83" font-size="8" stroke="#000" stroke-width="0.35" transform="rotate(-90 313.56 336.83)">+</text>
<text x="317.6" y="328.06" font-size="11.8" stroke="#000" stroke-width="0.35" textLength="38.29" lengthAdjust="spacingAndGlyphs" transform="rotate(-90 317.6 328.06)">Treg/Tconv</text>
<line x1="394.7" y1="254.5" x2="466.7" y2="254.5" stroke="#000" stroke-width="1.25"/>
<line x1="394.7" y1="251.5" x2="394.7" y2="257.5" stroke="#000" stroke-width="1.25"/>
<line x1="466.7" y1="251.5" x2="466.7" y2="257.5" stroke="#000" stroke-width="1.25"/>
<text x="412.52" y="250.3" font-size="9.5" textLength="34.94" lengthAdjust="spacingAndGlyphs">&lt;0.0001</text>
<circle cx="376.2" cy="295.5" r="2.68" fill="#3a6a54" stroke="#1d5739" stroke-width="0.85"/>
<circle cx="384" cy="298.2" r="2.68" fill="#3a6a54" stroke="#1d5739" stroke-width="0.85"/>
<circle cx="391.9" cy="300.5" r="2.68" fill="#3a6a54" stroke="#1d5739" stroke-width="0.85"/>
<circle cx="407.8" cy="290.7" r="2.68" fill="#3a6a54" stroke="#1d5739" stroke-width="0.85"/>
<circle cx="415.6" cy="295.5" r="2.68" fill="#3a6a54" stroke="#1d5739" stroke-width="0.85"/>
<circle cx="368.1" cy="306.3" r="2.68" fill="#3a6a54" stroke="#1d5739" stroke-width="0.85"/>
<circle cx="376.2" cy="304.1" r="2.68" fill="#3a6a54" stroke="#1d5739" stroke-width="0.85"/>
<circle cx="384" cy="306.3" r="2.68" fill="#3a6a54" stroke="#1d5739" stroke-width="0.85"/>
<circle cx="391.9" cy="308.6" r="2.68" fill="#3a6a54" stroke="#1d5739" stroke-width="0.85"/>
<circle cx="407.8" cy="305.2" r="2.68" fill="#3a6a54" stroke="#1d5739" stroke-width="0.85"/>
<circle cx="415.6" cy="304.1" r="2.68" fill="#3a6a54" stroke="#1d5739" stroke-width="0.85"/>
<circle cx="368.1" cy="313.3" r="2.68" fill="#3a6a54" stroke="#1d5739" stroke-width="0.85"/>
<circle cx="376.2" cy="311.6" r="2.68" fill="#3a6a54" stroke="#1d5739" stroke-width="0.85"/>
<circle cx="384" cy="313.5" r="2.68" fill="#3a6a54" stroke="#1d5739" stroke-width="0.85"/>
<circle cx="391.9" cy="315.7" r="2.68" fill="#3a6a54" stroke="#1d5739" stroke-width="0.85"/>
<circle cx="400" cy="315.7" r="2.68" fill="#3a6a54" stroke="#1d5739" stroke-width="0.85"/>
<circle cx="407.8" cy="312.6" r="2.68" fill="#3a6a54" stroke="#1d5739" stroke-width="0.85"/>
<circle cx="415.6" cy="311.6" r="2.68" fill="#3a6a54" stroke="#1d5739" stroke-width="0.85"/>
<circle cx="423.5" cy="310.3" r="2.68" fill="#3a6a54" stroke="#1d5739" stroke-width="0.85"/>
<circle cx="391.9" cy="324.7" r="2.68" fill="#3a6a54" stroke="#1d5739" stroke-width="0.85"/>
<circle cx="400" cy="327.4" r="2.68" fill="#3a6a54" stroke="#1d5739" stroke-width="0.85"/>
<circle cx="391.9" cy="333.2" r="2.68" fill="#3a6a54" stroke="#1d5739" stroke-width="0.85"/>
<rect x="434.30" y="327.90" width="6.20" height="6.20" fill="#d98b1c" stroke="#d58200" stroke-width="0.6"/>
<rect x="434.30" y="342.10" width="6.20" height="6.20" fill="#d98b1c" stroke="#d58200" stroke-width="0.6"/>
<rect x="443.70" y="321.00" width="6.20" height="6.20" fill="#d98b1c" stroke="#d58200" stroke-width="0.6"/>
<rect x="443.70" y="328.70" width="6.20" height="6.20" fill="#d98b1c" stroke="#d58200" stroke-width="0.6"/>
<rect x="443.70" y="344.20" width="6.20" height="6.20" fill="#d98b1c" stroke="#d58200" stroke-width="0.6"/>
<rect x="453.10" y="334.10" width="6.20" height="6.20" fill="#d98b1c" stroke="#d58200" stroke-width="0.6"/>
<rect x="453.10" y="348.50" width="6.20" height="6.20" fill="#d98b1c" stroke="#d58200" stroke-width="0.6"/>
<rect x="462.20" y="324.00" width="6.20" height="6.20" fill="#d98b1c" stroke="#d58200" stroke-width="0.6"/>
<rect x="462.20" y="333.40" width="6.20" height="6.20" fill="#d98b1c" stroke="#d58200" stroke-width="0.6"/>
<rect x="462.20" y="344.20" width="6.20" height="6.20" fill="#d98b1c" stroke="#d58200" stroke-width="0.6"/>
<rect x="462.20" y="353.60" width="6.20" height="6.20" fill="#d98b1c" stroke="#d58200" stroke-width="0.6"/>
<rect x="471.30" y="328.20" width="6.20" height="6.20" fill="#d98b1c" stroke="#d58200" stroke-width="0.6"/>
<rect x="471.30" y="340.20" width="6.20" height="6.20" fill="#d98b1c" stroke="#d58200" stroke-width="0.6"/>
<rect x="471.30" y="348.20" width="6.20" height="6.20" fill="#d98b1c" stroke="#d58200" stroke-width="0.6"/>
<rect x="480.70" y="320.30" width="6.20" height="6.20" fill="#d98b1c" stroke="#d58200" stroke-width="0.6"/>
<rect x="480.70" y="333.50" width="6.20" height="6.20" fill="#d98b1c" stroke="#d58200" stroke-width="0.6"/>
<rect x="480.70" y="340.40" width="6.20" height="6.20" fill="#d98b1c" stroke="#d58200" stroke-width="0.6"/>
<rect x="480.70" y="346.50" width="6.20" height="6.20" fill="#d98b1c" stroke="#d58200" stroke-width="0.6"/>
<rect x="489.90" y="330.30" width="6.20" height="6.20" fill="#d98b1c" stroke="#d58200" stroke-width="0.6"/>
<rect x="489.90" y="338.10" width="6.20" height="6.20" fill="#d98b1c" stroke="#d58200" stroke-width="0.6"/>
<rect x="457.60" y="362.70" width="6.20" height="6.20" fill="#d98b1c" stroke="#d58200" stroke-width="0.6"/>
<rect x="466.90" y="361.20" width="6.20" height="6.20" fill="#d98b1c" stroke="#d58200" stroke-width="0.6"/>
<line x1="365.4" y1="310.2" x2="426.6" y2="310.2" stroke="#000" stroke-width="1.5"/>
<line x1="434.7" y1="342.3" x2="496" y2="342.3" stroke="#000" stroke-width="1.5"/>
<text x="9.3" y="470.5" font-size="14.5" stroke="#000" stroke-width="0.25" font-weight="bold">D</text>
<text x="18.7" y="614.49" font-size="11.8" stroke="#000" stroke-width="0.35" textLength="120.73" lengthAdjust="spacingAndGlyphs" transform="rotate(-90 18.7 614.49)">% of Treg expressing this marker</text>
<text x="76.33" y="484.2" font-size="12.3" textLength="35.23" lengthAdjust="spacingAndGlyphs">CTLA4</text>
<text x="112.44" y="481.0" font-size="10.5">+</text>
<line x1="45.3" y1="499.0" x2="45.3" y2="607.7" stroke="#000" stroke-width="1.3"/>
<line x1="41.5" y1="607.1" x2="148.9" y2="607.1" stroke="#000" stroke-width="1.3"/>
<line x1="41.5" y1="607.1" x2="45.3" y2="607.1" stroke="#000" stroke-width="1.2"/>
<text x="37.7" y="610.6" font-size="10.2" text-anchor="end" textLength="5.67" lengthAdjust="spacingAndGlyphs">0</text>
<line x1="41.5" y1="586.26" x2="45.3" y2="586.26" stroke="#000" stroke-width="1.2"/>
<text x="37.7" y="589.76" font-size="10.2" text-anchor="end" textLength="11.35" lengthAdjust="spacingAndGlyphs">10</text>
<line x1="41.5" y1="565.4200000000001" x2="45.3" y2="565.4200000000001" stroke="#000" stroke-width="1.2"/>
<text x="37.7" y="568.9200000000001" font-size="10.2" text-anchor="end" textLength="11.35" lengthAdjust="spacingAndGlyphs">20</text>
<line x1="41.5" y1="544.58" x2="45.3" y2="544.58" stroke="#000" stroke-width="1.2"/>
<text x="37.7" y="548.08" font-size="10.2" text-anchor="end" textLength="11.35" lengthAdjust="spacingAndGlyphs">30</text>
<line x1="41.5" y1="523.74" x2="45.3" y2="523.74" stroke="#000" stroke-width="1.2"/>
<text x="37.7" y="527.24" font-size="10.2" text-anchor="end" textLength="11.35" lengthAdjust="spacingAndGlyphs">40</text>
<line x1="41.5" y1="502.90000000000003" x2="45.3" y2="502.90000000000003" stroke="#000" stroke-width="1.2"/>
<text x="37.7" y="506.40000000000003" font-size="10.2" text-anchor="end" textLength="11.35" lengthAdjust="spacingAndGlyphs">50</text>
<line x1="74.9" y1="607.1" x2="74.9" y2="610.7" stroke="#000" stroke-width="1.2"/>
<line x1="119.2" y1="607.1" x2="119.2" y2="610.7" stroke="#000" stroke-width="1.2"/>
<text x="74.9" y="623.9" font-size="10.2" text-anchor="middle" textLength="7.0" lengthAdjust="spacingAndGlyphs">D</text>
<text x="119.2" y="623.9" font-size="10.2" text-anchor="middle" textLength="7.0" lengthAdjust="spacingAndGlyphs">R</text>
<line x1="77" y1="502.6" x2="122.5" y2="502.6" stroke="#000" stroke-width="1.25"/>
<line x1="77" y1="500.8" x2="77" y2="504.40000000000003" stroke="#000" stroke-width="1.25"/>
<line x1="122.5" y1="500.8" x2="122.5" y2="504.40000000000003" stroke="#000" stroke-width="1.25"/>
<text x="84.92" y="498.6" font-size="9.5" textLength="28.89" lengthAdjust="spacingAndGlyphs">0.0028</text>
<circle cx="65.8" cy="552.8" r="1.72" fill="#3a6a54" stroke="#1d5739" stroke-width="0.85"/>
<circle cx="84.5" cy="553.1" r="1.72" fill="#3a6a54" stroke="#1d5739" stroke-width="0.85"/>
<circle cx="71.9" cy="555.6" r="1.72" fill="#3a6a54" stroke="#1d5739" stroke-width="0.85"/>
<circle cx="78.1" cy="558.3" r="1.72" fill="#3a6a54" stroke="#1d5739" stroke-width="0.85"/>
<circle cx="68.9" cy="563.1" r="1.72" fill="#3a6a54" stroke="#1d5739" stroke-width="0.85"/>
<circle cx="81.2" cy="564.1" r="1.72" fill="#3a6a54" stroke="#1d5739" stroke-width="0.85"/>
<circle cx="75" cy="565.9" r="1.72" fill="#3a6a54" stroke="#1d5739" stroke-width="0.85"/>
<circle cx="65.8" cy="570.6" r="1.72" fill="#3a6a54" stroke="#1d5739" stroke-width="0.85"/>
<circle cx="71.9" cy="571" r="1.72" fill="#3a6a54" stroke="#1d5739" stroke-width="0.85"/>
<circle cx="84.5" cy="570.6" r="1.72" fill="#3a6a54" stroke="#1d5739" stroke-width="0.85"/>
<circle cx="78.1" cy="573.4" r="1.72" fill="#3a6a54" stroke="#1d5739" stroke-width="0.85"/>
<circle cx="57.1" cy="575.7" r="1.72" fill="#3a6a54" stroke="#1d5739" stroke-width="0.85"/>
<circle cx="62.2" cy="575.9" r="1.72" fill="#3a6a54" stroke="#1d5739" stroke-width="0.85"/>
<circle cx="67.3" cy="577" r="1.72" fill="#3a6a54" stroke="#1d5739" stroke-width="0.85"/>
<circle cx="82.7" cy="576.8" r="1.72" fill="#3a6a54" stroke="#1d5739" stroke-width="0.85"/>
<circle cx="87.6" cy="575.9" r="1.72" fill="#3a6a54" stroke="#1d5739" stroke-width="0.85"/>
<circle cx="92.8" cy="575.2" r="1.72" fill="#3a6a54" stroke="#1d5739" stroke-width="0.85"/>
<circle cx="72.5" cy="581.1" r="1.72" fill="#3a6a54" stroke="#1d5739" stroke-width="0.85"/>
<circle cx="77.8" cy="581.1" r="1.72" fill="#3a6a54" stroke="#1d5739" stroke-width="0.85"/>
<circle cx="71.9" cy="587.4" r="1.72" fill="#3a6a54" stroke="#1d5739" stroke-width="0.85"/>
<circle cx="78.1" cy="590.3" r="1.72" fill="#3a6a54" stroke="#1d5739" stroke-width="0.85"/>
<circle cx="75" cy="599.5" r="1.72" fill="#3a6a54" stroke="#1d5739" stroke-width="0.85"/>
<rect x="117.70" y="513.70" width="4.00" height="4.00" fill="#d98b1c" stroke="#d58200" stroke-width="0.6"/>
<rect x="117.70" y="520.60" width="4.00" height="4.00" fill="#d98b1c" stroke="#d58200" stroke-width="0.6"/>
<rect x="111.60" y="530.30" width="4.00" height="4.00" fill="#d98b1c" stroke="#d58200" stroke-width="0.6"/>
<rect x="120.90" y="529.20" width="4.00" height="4.00" fill="#d98b1c" stroke="#d58200" stroke-width="0.6"/>
<rect x="114.50" y="532.40" width="4.00" height="4.00" fill="#d98b1c" stroke="#d58200" stroke-width="0.6"/>
<rect x="120.90" y="536.90" width="4.00" height="4.00" fill="#d98b1c" stroke="#d58200" stroke-width="0.6"/>
<rect x="108.50" y="542.50" width="4.00" height="4.00" fill="#d98b1c" stroke="#d58200" stroke-width="0.6"/>
<rect x="127.50" y="542.50" width="4.00" height="4.00" fill="#d98b1c" stroke="#d58200" stroke-width="0.6"/>
<rect x="114.50" y="547.50" width="4.00" height="4.00" fill="#d98b1c" stroke="#d58200" stroke-width="0.6"/>
<rect x="120.90" y="547.30" width="4.00" height="4.00" fill="#d98b1c" stroke="#d58200" stroke-width="0.6"/>
<rect x="111.60" y="557.50" width="4.00" height="4.00" fill="#d98b1c" stroke="#d58200" stroke-width="0.6"/>
<rect x="117.70" y="555.20" width="4.00" height="4.00" fill="#d98b1c" stroke="#d58200" stroke-width="0.6"/>
<rect x="117.70" y="562.20" width="4.00" height="4.00" fill="#d98b1c" stroke="#d58200" stroke-width="0.6"/>
<rect x="124.00" y="561.40" width="4.00" height="4.00" fill="#d98b1c" stroke="#d58200" stroke-width="0.6"/>
<rect x="102.10" y="568.10" width="4.00" height="4.00" fill="#d98b1c" stroke="#d58200" stroke-width="0.6"/>
<rect x="108.50" y="570.20" width="4.00" height="4.00" fill="#d98b1c" stroke="#d58200" stroke-width="0.6"/>
<rect x="114.50" y="572.20" width="4.00" height="4.00" fill="#d98b1c" stroke="#d58200" stroke-width="0.6"/>
<rect x="120.90" y="574.00" width="4.00" height="4.00" fill="#d98b1c" stroke="#d58200" stroke-width="0.6"/>
<rect x="127.20" y="571.30" width="4.00" height="4.00" fill="#d98b1c" stroke="#d58200" stroke-width="0.6"/>
<rect x="133.30" y="570.20" width="4.00" height="4.00" fill="#d98b1c" stroke="#d58200" stroke-width="0.6"/>
<rect x="120.90" y="588.70" width="4.00" height="4.00" fill="#d98b1c" stroke="#d58200" stroke-width="0.6"/>
<rect x="114.50" y="594.60" width="4.00" height="4.00" fill="#d98b1c" stroke="#d58200" stroke-width="0.6"/>
<line x1="55.1" y1="574.7" x2="94.5" y2="574.7" stroke="#000" stroke-width="1.4"/>
<line x1="100" y1="558.6" x2="139.8" y2="558.6" stroke="#000" stroke-width="1.4"/>
<text x="212.93" y="484.2" font-size="12.3" textLength="31.75" lengthAdjust="spacingAndGlyphs">ICOS</text>
<text x="244.44" y="481.0" font-size="10.5">+</text>
<line x1="180" y1="499.2" x2="180" y2="607.8" stroke="#000" stroke-width="1.3"/>
<line x1="176.2" y1="607.2" x2="284.4" y2="607.2" stroke="#000" stroke-width="1.3"/>
<line x1="176.2" y1="607.2" x2="180" y2="607.2" stroke="#000" stroke-width="1.2"/>
<text x="172.5" y="610.7" font-size="10.2" text-anchor="end" textLength="5.67" lengthAdjust="spacingAndGlyphs">0</text>
<line x1="176.2" y1="581.1" x2="180" y2="581.1" stroke="#000" stroke-width="1.2"/>
<text x="172.5" y="584.6" font-size="10.2" text-anchor="end" textLength="11.35" lengthAdjust="spacingAndGlyphs">20</text>
<line x1="176.2" y1="555.0" x2="180" y2="555.0" stroke="#000" stroke-width="1.2"/>
<text x="172.5" y="558.5" font-size="10.2" text-anchor="end" textLength="11.35" lengthAdjust="spacingAndGlyphs">40</text>
<line x1="176.2" y1="528.9000000000001" x2="180" y2="528.9000000000001" stroke="#000" stroke-width="1.2"/>
<text x="172.5" y="532.4000000000001" font-size="10.2" text-anchor="end" textLength="11.35" lengthAdjust="spacingAndGlyphs">60</text>
<line x1="176.2" y1="502.80000000000007" x2="180" y2="502.80000000000007" stroke="#000" stroke-width="1.2"/>
<text x="172.5" y="506.30000000000007" font-size="10.2" text-anchor="end" textLength="11.35" lengthAdjust="spacingAndGlyphs">80</text>
<line x1="209.9" y1="607.2" x2="209.9" y2="610.8" stroke="#000" stroke-width="1.2"/>
<line x1="254.3" y1="607.2" x2="254.3" y2="610.8" stroke="#000" stroke-width="1.2"/>
<text x="209.9" y="624.1" font-size="10.2" text-anchor="middle" textLength="7.0" lengthAdjust="spacingAndGlyphs">D</text>
<text x="254.3" y="624.1" font-size="10.2" text-anchor="middle" textLength="7.0" lengthAdjust="spacingAndGlyphs">R</text>
<line x1="212.4" y1="512.7" x2="254.5" y2="512.7" stroke="#000" stroke-width="1.25"/>
<line x1="212.4" y1="510.90000000000003" x2="212.4" y2="514.5" stroke="#000" stroke-width="1.25"/>
<line x1="254.5" y1="510.90000000000003" x2="254.5" y2="514.5" stroke="#000" stroke-width="1.25"/>
<text x="218.62" y="508.3" font-size="9.5" textLength="29.04" lengthAdjust="spacingAndGlyphs">0.0037</text>
<circle cx="215.8" cy="575.8" r="1.72" fill="#3a6a54" stroke="#1d5739" stroke-width="0.85"/>
<circle cx="200.4" cy="579.9" r="1.72" fill="#3a6a54" stroke="#1d5739" stroke-width="0.85"/>
<circle cx="209.8" cy="579.9" r="1.72" fill="#3a6a54" stroke="#1d5739" stroke-width="0.85"/>
<circle cx="215.8" cy="582.3" r="1.72" fill="#3a6a54" stroke="#1d5739" stroke-width="0.85"/>
<circle cx="197.3" cy="584.7" r="1.72" fill="#3a6a54" stroke="#1d5739" stroke-width="0.85"/>
<circle cx="203.5" cy="584.2" r="1.72" fill="#3a6a54" stroke="#1d5739" stroke-width="0.85"/>
<circle cx="215.8" cy="584.7" r="1.72" fill="#3a6a54" stroke="#1d5739" stroke-width="0.85"/>
<circle cx="222.3" cy="584.7" r="1.72" fill="#3a6a54" stroke="#1d5739" stroke-width="0.85"/>
<circle cx="203.5" cy="586.6" r="1.72" fill="#3a6a54" stroke="#1d5739" stroke-width="0.85"/>
<circle cx="206.6" cy="587.6" r="1.72" fill="#3a6a54" stroke="#1d5739" stroke-width="0.85"/>
<circle cx="194.6" cy="588.4" r="1.72" fill="#3a6a54" stroke="#1d5739" stroke-width="0.85"/>
<circle cx="212.9" cy="588.4" r="1.72" fill="#3a6a54" stroke="#1d5739" stroke-width="0.85"/>
<circle cx="224.9" cy="588.4" r="1.72" fill="#3a6a54" stroke="#1d5739" stroke-width="0.85"/>
<circle cx="195.6" cy="589.5" r="1.72" fill="#3a6a54" stroke="#1d5739" stroke-width="0.85"/>
<circle cx="199.4" cy="591.2" r="1.72" fill="#3a6a54" stroke="#1d5739" stroke-width="0.85"/>
<circle cx="203.3" cy="593.2" r="1.72" fill="#3a6a54" stroke="#1d5739" stroke-width="0.85"/>
<circle cx="206.6" cy="594.3" r="1.72" fill="#3a6a54" stroke="#1d5739" stroke-width="0.85"/>
<circle cx="210.5" cy="594.6" r="1.72" fill="#3a6a54" stroke="#1d5739" stroke-width="0.85"/>
<circle cx="213.8" cy="593.8" r="1.72" fill="#3a6a54" stroke="#1d5739" stroke-width="0.85"/>
<circle cx="217.7" cy="592.3" r="1.72" fill="#3a6a54" stroke="#1d5739" stroke-width="0.85"/>
<circle cx="221.5" cy="590.8" r="1.72" fill="#3a6a54" stroke="#1d5739" stroke-width="0.85"/>
<circle cx="209.8" cy="600.6" r="1.72" fill="#3a6a54" stroke="#1d5739" stroke-width="0.85"/>
<circle cx="199" cy="588.8" r="1.72" fill="#3a6a54" stroke="#1d5739" stroke-width="0.85"/>
<circle cx="219.5" cy="588.8" r="1.72" fill="#3a6a54" stroke="#1d5739" stroke-width="0.85"/>
<circle cx="208.5" cy="588.6" r="1.72" fill="#3a6a54" stroke="#1d5739" stroke-width="0.85"/>
<rect x="252.40" y="524.80" width="4.00" height="4.00" fill="#d98b1c" stroke="#d58200" stroke-width="0.6"/>
<rect x="252.40" y="543.50" width="4.00" height="4.00" fill="#d98b1c" stroke="#d58200" stroke-width="0.6"/>
<rect x="246.30" y="553.50" width="4.00" height="4.00" fill="#d98b1c" stroke="#d58200" stroke-width="0.6"/>
<rect x="252.40" y="555.00" width="4.00" height="4.00" fill="#d98b1c" stroke="#d58200" stroke-width="0.6"/>
<rect x="258.50" y="552.30" width="4.00" height="4.00" fill="#d98b1c" stroke="#d58200" stroke-width="0.6"/>
<rect x="240.00" y="564.00" width="4.00" height="4.00" fill="#d98b1c" stroke="#d58200" stroke-width="0.6"/>
<rect x="262.00" y="563.70" width="4.00" height="4.00" fill="#d98b1c" stroke="#d58200" stroke-width="0.6"/>
<rect x="246.30" y="570.00" width="4.00" height="4.00" fill="#d98b1c" stroke="#d58200" stroke-width="0.6"/>
<rect x="255.70" y="567.80" width="4.00" height="4.00" fill="#d98b1c" stroke="#d58200" stroke-width="0.6"/>
<rect x="249.50" y="574.80" width="4.00" height="4.00" fill="#d98b1c" stroke="#d58200" stroke-width="0.6"/>
<rect x="255.70" y="576.80" width="4.00" height="4.00" fill="#d98b1c" stroke="#d58200" stroke-width="0.6"/>
<rect x="235.80" y="578.20" width="4.00" height="4.00" fill="#d98b1c" stroke="#d58200" stroke-width="0.6"/>
<rect x="241.40" y="580.60" width="4.00" height="4.00" fill="#d98b1c" stroke="#d58200" stroke-width="0.6"/>
<rect x="246.80" y="582.70" width="4.00" height="4.00" fill="#d98b1c" stroke="#d58200" stroke-width="0.6"/>
<rect x="252.40" y="583.60" width="4.00" height="4.00" fill="#d98b1c" stroke="#d58200" stroke-width="0.6"/>
<rect x="257.80" y="583.00" width="4.00" height="4.00" fill="#d98b1c" stroke="#d58200" stroke-width="0.6"/>
<rect x="263.50" y="582.40" width="4.00" height="4.00" fill="#d98b1c" stroke="#d58200" stroke-width="0.6"/>
<rect x="269.40" y="580.00" width="4.00" height="4.00" fill="#d98b1c" stroke="#d58200" stroke-width="0.6"/>
<rect x="246.30" y="590.20" width="4.00" height="4.00" fill="#d98b1c" stroke="#d58200" stroke-width="0.6"/>
<rect x="258.50" y="588.50" width="4.00" height="4.00" fill="#d98b1c" stroke="#d58200" stroke-width="0.6"/>
<rect x="252.40" y="595.10" width="4.00" height="4.00" fill="#d98b1c" stroke="#d58200" stroke-width="0.6"/>
<rect x="252.40" y="601.70" width="4.00" height="4.00" fill="#d98b1c" stroke="#d58200" stroke-width="0.6"/>
<line x1="190.3" y1="588.4" x2="229.7" y2="588.4" stroke="#000" stroke-width="1.4"/>
<line x1="235.2" y1="579.7" x2="273.7" y2="579.7" stroke="#000" stroke-width="1.4"/>
<text x="353.87" y="484.2" font-size="12.3" textLength="22.61" lengthAdjust="spacingAndGlyphs">PD1</text>
<text x="377.44" y="481.0" font-size="10.5">+</text>
<line x1="314.6" y1="499.2" x2="314.6" y2="607.7" stroke="#000" stroke-width="1.3"/>
<line x1="310.8" y1="607.1" x2="422.1" y2="607.1" stroke="#000" stroke-width="1.3"/>
<line x1="310.8" y1="607.1" x2="314.6" y2="607.1" stroke="#000" stroke-width="1.2"/>
<text x="307.5" y="610.6" font-size="10.2" text-anchor="end" textLength="5.67" lengthAdjust="spacingAndGlyphs">0</text>
<line x1="310.8" y1="572.4" x2="314.6" y2="572.4" stroke="#000" stroke-width="1.2"/>
<text x="307.5" y="575.9" font-size="10.2" text-anchor="end" textLength="11.35" lengthAdjust="spacingAndGlyphs">10</text>
<line x1="310.8" y1="537.7" x2="314.6" y2="537.7" stroke="#000" stroke-width="1.2"/>
<text x="307.5" y="541.2" font-size="10.2" text-anchor="end" textLength="11.35" lengthAdjust="spacingAndGlyphs">20</text>
<line x1="310.8" y1="503.0" x2="314.6" y2="503.0" stroke="#000" stroke-width="1.2"/>
<text x="307.5" y="506.5" font-size="10.2" text-anchor="end" textLength="11.35" lengthAdjust="spacingAndGlyphs">30</text>
<line x1="345.5" y1="607.1" x2="345.5" y2="611.0" stroke="#000" stroke-width="1.2"/>
<line x1="392.5" y1="607.1" x2="392.5" y2="611.0" stroke="#000" stroke-width="1.2"/>
<text x="345.5" y="624.0" font-size="10.2" text-anchor="middle" textLength="7.0" lengthAdjust="spacingAndGlyphs">D</text>
<text x="392.5" y="624.0" font-size="10.2" text-anchor="middle" textLength="7.0" lengthAdjust="spacingAndGlyphs">R</text>
<line x1="348.1" y1="502.9" x2="393.5" y2="502.9" stroke="#000" stroke-width="1.25"/>
<line x1="348.1" y1="501.09999999999997" x2="348.1" y2="504.7" stroke="#000" stroke-width="1.25"/>
<line x1="393.5" y1="501.09999999999997" x2="393.5" y2="504.7" stroke="#000" stroke-width="1.25"/>
<text x="356.18" y="498.6" font-size="9.5" textLength="28.43" lengthAdjust="spacingAndGlyphs">0.0001</text>
<circle cx="346.2" cy="556" r="1.72" fill="#3a6a54" stroke="#1d5739" stroke-width="0.85"/>
<circle cx="346.2" cy="563.8" r="1.72" fill="#3a6a54" stroke="#1d5739" stroke-width="0.85"/>
<circle cx="333" cy="569" r="1.72" fill="#3a6a54" stroke="#1d5739" stroke-width="0.85"/>
<circle cx="358.9" cy="568.5" r="1.72" fill="#3a6a54" stroke="#1d5739" stroke-width="0.85"/>
<circle cx="352.7" cy="571.5" r="1.72" fill="#3a6a54" stroke="#1d5739" stroke-width="0.85"/>
<circle cx="339.7" cy="573.1" r="1.72" fill="#3a6a54" stroke="#1d5739" stroke-width="0.85"/>
<circle cx="346.2" cy="574.4" r="1.72" fill="#3a6a54" stroke="#1d5739" stroke-width="0.85"/>
<circle cx="349.3" cy="576.9" r="1.72" fill="#3a6a54" stroke="#1d5739" stroke-width="0.85"/>
<circle cx="342.9" cy="577.9" r="1.72" fill="#3a6a54" stroke="#1d5739" stroke-width="0.85"/>
<circle cx="331.3" cy="578.6" r="1.72" fill="#3a6a54" stroke="#1d5739" stroke-width="0.85"/>
<circle cx="356.3" cy="578.8" r="1.72" fill="#3a6a54" stroke="#1d5739" stroke-width="0.85"/>
<circle cx="360.9" cy="578.6" r="1.72" fill="#3a6a54" stroke="#1d5739" stroke-width="0.85"/>
<circle cx="335.4" cy="581.4" r="1.72" fill="#3a6a54" stroke="#1d5739" stroke-width="0.85"/>
<circle cx="339.7" cy="581.9" r="1.72" fill="#3a6a54" stroke="#1d5739" stroke-width="0.85"/>
<circle cx="344" cy="582.9" r="1.72" fill="#3a6a54" stroke="#1d5739" stroke-width="0.85"/>
<circle cx="348.4" cy="581.9" r="1.72" fill="#3a6a54" stroke="#1d5739" stroke-width="0.85"/>
<circle cx="352.7" cy="584.3" r="1.72" fill="#3a6a54" stroke="#1d5739" stroke-width="0.85"/>
<circle cx="352.7" cy="581" r="1.72" fill="#3a6a54" stroke="#1d5739" stroke-width="0.85"/>
<circle cx="339.7" cy="589.8" r="1.72" fill="#3a6a54" stroke="#1d5739" stroke-width="0.85"/>
<circle cx="346.2" cy="591.1" r="1.72" fill="#3a6a54" stroke="#1d5739" stroke-width="0.85"/>
<circle cx="349.3" cy="599.2" r="1.72" fill="#3a6a54" stroke="#1d5739" stroke-width="0.85"/>
<circle cx="342.9" cy="602.9" r="1.72" fill="#3a6a54" stroke="#1d5739" stroke-width="0.85"/>
<rect x="390.60" y="514.00" width="4.00" height="4.00" fill="#d98b1c" stroke="#d58200" stroke-width="0.6"/>
<rect x="397.10" y="516.70" width="4.00" height="4.00" fill="#d98b1c" stroke="#d58200" stroke-width="0.6"/>
<rect x="383.90" y="521.30" width="4.00" height="4.00" fill="#d98b1c" stroke="#d58200" stroke-width="0.6"/>
<rect x="390.60" y="522.20" width="4.00" height="4.00" fill="#d98b1c" stroke="#d58200" stroke-width="0.6"/>
<rect x="393.80" y="524.20" width="4.00" height="4.00" fill="#d98b1c" stroke="#d58200" stroke-width="0.6"/>
<rect x="387.20" y="530.30" width="4.00" height="4.00" fill="#d98b1c" stroke="#d58200" stroke-width="0.6"/>
<rect x="390.60" y="538.30" width="4.00" height="4.00" fill="#d98b1c" stroke="#d58200" stroke-width="0.6"/>
<rect x="390.30" y="549.90" width="4.00" height="4.00" fill="#d98b1c" stroke="#d58200" stroke-width="0.6"/>
<rect x="397.40" y="553.50" width="4.00" height="4.00" fill="#d98b1c" stroke="#d58200" stroke-width="0.6"/>
<rect x="384.20" y="555.90" width="4.00" height="4.00" fill="#d98b1c" stroke="#d58200" stroke-width="0.6"/>
<rect x="390.30" y="557.00" width="4.00" height="4.00" fill="#d98b1c" stroke="#d58200" stroke-width="0.6"/>
<rect x="377.30" y="559.60" width="4.00" height="4.00" fill="#d98b1c" stroke="#d58200" stroke-width="0.6"/>
<rect x="393.90" y="559.60" width="4.00" height="4.00" fill="#d98b1c" stroke="#d58200" stroke-width="0.6"/>
<rect x="400.50" y="558.40" width="4.00" height="4.00" fill="#d98b1c" stroke="#d58200" stroke-width="0.6"/>
<rect x="384.20" y="564.40" width="4.00" height="4.00" fill="#d98b1c" stroke="#d58200" stroke-width="0.6"/>
<rect x="387.50" y="568.30" width="4.00" height="4.00" fill="#d98b1c" stroke="#d58200" stroke-width="0.6"/>
<rect x="393.90" y="571.10" width="4.00" height="4.00" fill="#d98b1c" stroke="#d58200" stroke-width="0.6"/>
<rect x="393.90" y="578.70" width="4.00" height="4.00" fill="#d98b1c" stroke="#d58200" stroke-width="0.6"/>
<rect x="384.20" y="579.90" width="4.00" height="4.00" fill="#d98b1c" stroke="#d58200" stroke-width="0.6"/>
<rect x="387.50" y="585.00" width="4.00" height="4.00" fill="#d98b1c" stroke="#d58200" stroke-width="0.6"/>
<rect x="393.90" y="586.30" width="4.00" height="4.00" fill="#d98b1c" stroke="#d58200" stroke-width="0.6"/>
<rect x="390.30" y="602.50" width="4.00" height="4.00" fill="#d98b1c" stroke="#d58200" stroke-width="0.6"/>
<line x1="325.6" y1="579" x2="367.1" y2="579" stroke="#000" stroke-width="1.4"/>
<line x1="372.2" y1="559.8" x2="413.2" y2="559.8" stroke="#000" stroke-width="1.4"/>
<rect x="0.6" y="0.6" width="518.6" height="631.6" fill="none" stroke="#000" stroke-width="1.4"/>
</svg>
</body></html>
